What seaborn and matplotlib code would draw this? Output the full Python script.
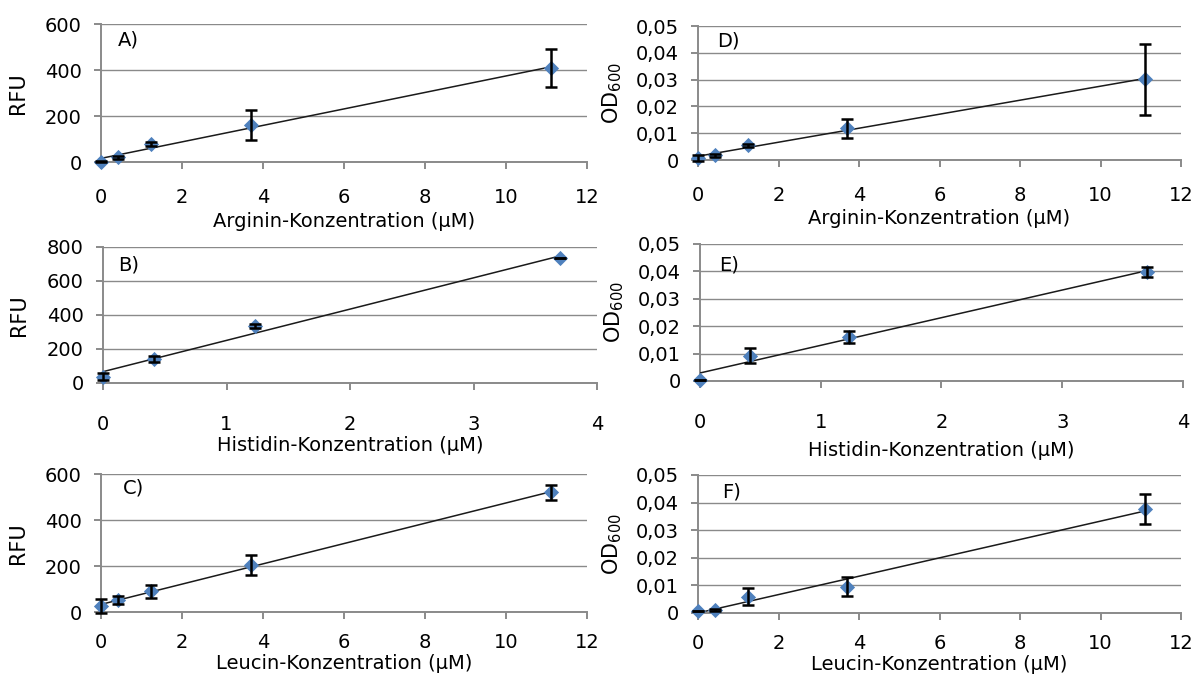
import numpy as np
import matplotlib
matplotlib.use("Agg")
import matplotlib.pyplot as plt
from matplotlib.ticker import FuncFormatter, MultipleLocator
import seaborn as sns

# ---------------- data ----------------
conc_arg = [0, 0.41, 1.23, 3.7, 11.1]
conc_his = [0, 0.41, 1.23, 3.7]
conc_leu = [0, 0.41, 1.23, 3.7, 11.1]

rfu_arg = [2, 20, 78, 160, 408]
rfu_arg_err = [4, 8, 9, 64, 84]
rfu_his = [38, 142, 336, 733]
rfu_his_err = [22, 18, 10, 0]
rfu_leu = [25, 52, 90, 203, 520]
rfu_leu_err = [30, 18, 27, 43, 33]

od_arg = [0.0008, 0.0018, 0.0055, 0.0118, 0.0301]
od_arg_err = [0.001, 0.0005, 0.0006, 0.0035, 0.0133]
od_his = [0.0005, 0.0093, 0.016, 0.0398]
od_his_err = [0.0, 0.0026, 0.0022, 0.0018]
od_leu = [0.0006, 0.0011, 0.0059, 0.0095, 0.0377]
od_leu_err = [0.0, 0.0003, 0.003, 0.0035, 0.0053]

panel_letters = ["A)", "B)", "C)", "D)", "E)", "F)"]
x_labels = ["Arginin-Konzentration (µM)", "Histidin-Konzentration (µM)",
            "Leucin-Konzentration (µM)"]
rfu_label = "RFU"
od_label = "OD$_{600}$"

# ---------------- style ----------------
sns.set_theme(style="white")
plt.rcParams["font.family"] = ["DejaVu Sans"]
plt.rcParams["mathtext.default"] = "regular"
plt.rcParams["font.size"] = 14

W, H = 1197, 682
fig = plt.figure(figsize=(W / 100, H / 100), dpi=100)
fig.patch.set_facecolor("white")

GRAY = "#8a8a8a"
BLUE = "#4F81BD"


def px_axes(left, top, right, bottom):
    return fig.add_axes([left / W, 1 - bottom / H, (right - left) / W, (bottom - top) / H])


def comma_fmt(v, pos):
    if abs(v) < 1e-12:
        return "0"
    return f"{v:.2f}".replace(".", ",")


def draw_panel(ax, x, y, yerr, xmax, xstep, ymax, ystep, letter, xlabel, ylabel,
               od, xlab_y, ylab_x, letter_pos, xpad):
    ax.set_facecolor("white")
    # trendline (linear regression through data, like Excel)
    sns.regplot(x=np.array(x, float), y=np.array(y, float), ax=ax, scatter=False,
                ci=None, truncate=True, line_kws=dict(color="#1a1a1a", lw=1.1, zorder=3))
    # markers
    sns.scatterplot(x=x, y=y, ax=ax, marker="D", color=BLUE, s=60, edgecolor=BLUE,
                    linewidth=0, zorder=4, clip_on=False, legend=False)
    # error bars
    eb = ax.errorbar(x, y, yerr=yerr, fmt="none", ecolor="black", elinewidth=1.8,
                     capsize=4.5, capthick=1.8, zorder=5, clip_on=False)
    for art in eb.get_children():
        art.set_clip_on(False)

    ax.set_xlim(0, xmax)
    ax.set_ylim(0, ymax)
    ax.xaxis.set_major_locator(MultipleLocator(xstep))
    ax.yaxis.set_major_locator(MultipleLocator(ystep))
    if od:
        ax.yaxis.set_major_formatter(FuncFormatter(comma_fmt))
    else:
        ax.yaxis.set_major_formatter(FuncFormatter(lambda v, p: f"{int(round(v))}"))
    ax.xaxis.set_major_formatter(FuncFormatter(lambda v, p: f"{int(round(v))}"))

    ax.grid(axis="y", color=GRAY, lw=1.0)
    ax.grid(axis="x", visible=False)
    ax.set_axisbelow(True)
    for s in ["top", "right"]:
        ax.spines[s].set_visible(False)
    for s in ["left", "bottom"]:
        ax.spines[s].set_color(GRAY)
        ax.spines[s].set_linewidth(1.4)
    ax.tick_params(axis="x", direction="out", length=5, width=1.4, color=GRAY,
                   pad=xpad, labelsize=14, bottom=True, labelcolor="black")
    ax.tick_params(axis="y", direction="out", length=5, width=1.4, color=GRAY,
                   pad=9, labelsize=14, left=True, labelcolor="black")

    ax.set_xlabel(xlabel, fontsize=14, color="black")
    ax.xaxis.label.set_va("center")
    ax.xaxis.set_label_coords(0.5, xlab_y)
    ax.set_ylabel(ylabel, fontsize=15, color="black")
    ax.yaxis.label.set_va("center")
    ax.yaxis.set_label_coords(ylab_x, 0.5)
    ax.text(letter_pos[0], letter_pos[1], letter, transform=ax.transAxes,
            fontsize=14, ha="left", va="center", color="black")


axA = px_axes(101, 24, 587, 162)
axB = px_axes(103, 247, 597, 383)
axC = px_axes(101, 474, 587, 612)
axD = px_axes(698, 26, 1181, 160)
axE = px_axes(700, 244, 1183, 381)
axF = px_axes(698, 475, 1181, 613)

draw_panel(axA, conc_arg, rfu_arg, rfu_arg_err, 12, 2, 600, 200, panel_letters[0],
           x_labels[0], rfu_label, False, -0.43, -0.17, (0.035, 0.885), 14)
draw_panel(axB, conc_his, rfu_his, rfu_his_err, 4, 1, 800, 200, panel_letters[1],
           x_labels[1], rfu_label, False, -0.46, -0.17, (0.03, 0.87), 18)
draw_panel(axC, conc_leu, rfu_leu, rfu_leu_err, 12, 2, 600, 200, panel_letters[2],
           x_labels[2], rfu_label, False, -0.375, -0.17, (0.045, 0.9), 10)
draw_panel(axD, conc_arg, od_arg, od_arg_err, 12, 2, 0.05, 0.01, panel_letters[3],
           x_labels[0], od_label, True, -0.44, -0.178, (0.04, 0.89), 14)
draw_panel(axE, conc_his, od_his, od_his_err, 4, 1, 0.05, 0.01, panel_letters[4],
           x_labels[1], od_label, True, -0.51, -0.178, (0.04, 0.85), 18)
draw_panel(axF, conc_leu, od_leu, od_leu_err, 12, 2, 0.05, 0.01, panel_letters[5],
           x_labels[2], od_label, True, -0.37, -0.178, (0.05, 0.88), 10)

fig.savefig("out.png", dpi=100, facecolor="white")
